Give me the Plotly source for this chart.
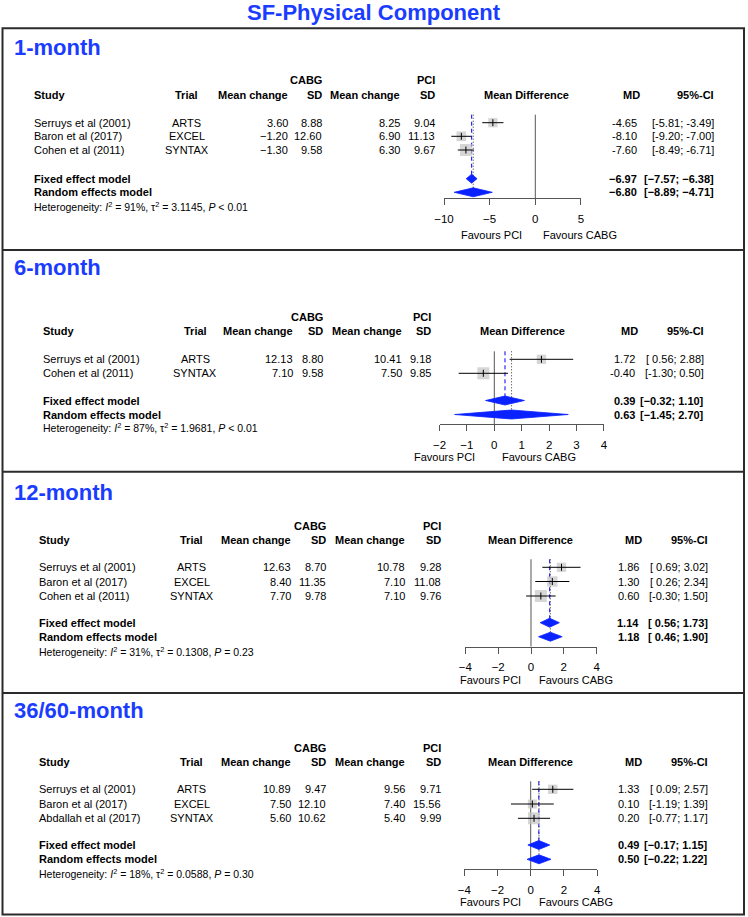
import math
import plotly.graph_objects as go

W, H = 748, 917
OFF = 0
FW, FH = W - OFF, H - OFF

# ------------------------------------------------------------------ data
main_title = "SF-Physical Component"
col_heads = ["Study", "Trial", "Mean change", "SD", "Mean change", "SD", "Mean Difference", "MD", "95%-CI"]
group_left = "CABG"
group_right = "PCI"
label_left = "Favours PCI"
label_right = "Favours CABG"

p1_name = "1-month"
p1_study = ["Serruys et al (2001)", "Baron et al (2017)", "Cohen et al (2011)"]
p1_trial = ["ARTS", "EXCEL", "SYNTAX"]
p1_cabg_mean = [3.60, -1.20, -1.30]
p1_cabg_sd = [8.88, 12.60, 9.58]
p1_pci_mean = [8.25, 6.90, 6.30]
p1_pci_sd = [9.04, 11.13, 9.67]
p1_md = [-4.65, -8.10, -7.60]
p1_lo = [-5.81, -9.20, -8.49]
p1_hi = [-3.49, -7.00, -6.71]
p1_fixed = [-6.97, -7.57, -6.38]
p1_random = [-6.80, -8.89, -4.71]
p1_het = ["91%", "3.1145", "< 0.01"]
p1_ticks = [-10, -5, 0, 5]

p2_name = "6-month"
p2_study = ["Serruys et al (2001)", "Cohen et al (2011)"]
p2_trial = ["ARTS", "SYNTAX"]
p2_cabg_mean = [12.13, 7.10]
p2_cabg_sd = [8.80, 9.58]
p2_pci_mean = [10.41, 7.50]
p2_pci_sd = [9.18, 9.85]
p2_md = [1.72, -0.40]
p2_lo = [0.56, -1.30]
p2_hi = [2.88, 0.50]
p2_fixed = [0.39, -0.32, 1.10]
p2_random = [0.63, -1.45, 2.70]
p2_het = ["87%", "1.9681", "< 0.01"]
p2_ticks = [-2, -1, 0, 1, 2, 3, 4]

p3_name = "12-month"
p3_study = ["Serruys et al (2001)", "Baron et al (2017)", "Cohen et al (2011)"]
p3_trial = ["ARTS", "EXCEL", "SYNTAX"]
p3_cabg_mean = [12.63, 8.40, 7.70]
p3_cabg_sd = [8.70, 11.35, 9.78]
p3_pci_mean = [10.78, 7.10, 7.10]
p3_pci_sd = [9.28, 11.08, 9.76]
p3_md = [1.86, 1.30, 0.60]
p3_lo = [0.69, 0.26, -0.30]
p3_hi = [3.02, 2.34, 1.50]
p3_fixed = [1.14, 0.56, 1.73]
p3_random = [1.18, 0.46, 1.90]
p3_het = ["31%", "0.1308", "= 0.23"]
p3_ticks = [-4, -2, 0, 2, 4]

p4_name = "36/60-month"
p4_study = ["Serruys et al (2001)", "Baron et al (2017)", "Abdallah et al (2017)"]
p4_trial = ["ARTS", "EXCEL", "SYNTAX"]
p4_cabg_mean = [10.89, 7.50, 5.60]
p4_cabg_sd = [9.47, 12.10, 10.62]
p4_pci_mean = [9.56, 7.40, 5.40]
p4_pci_sd = [9.71, 15.56, 9.99]
p4_md = [1.33, 0.10, 0.20]
p4_lo = [0.09, -1.19, -0.77]
p4_hi = [2.57, 1.39, 1.17]
p4_fixed = [0.49, -0.17, 1.15]
p4_random = [0.50, -0.22, 1.22]
p4_het = ["18%", "0.0588", "= 0.30"]
p4_ticks = [-4, -2, 0, 2, 4]

# ------------------------------------------------------------------ layout (page pixel positions, styles)
FONT = "Liberation Sans, Arial, Helvetica, sans-serif"
BLUE_T = "#1a3cff"
DIAM = "#0a22ff"
BOX = "#c4c4c4"
FS = 11
FS_HET = 10.5

layouts = [
    dict(title_y=47, cabg_y=80, head_y=94.5, rows=[122.7, 136.3, 150], fixed_y=178.7, random_y=192.3,
         het_y=206, axis_y=198.3, fav_y=235, x_study=32.4, x_trial=186.5, x_cm=289.5, x_cs=324,
         x_pm=402, x_ps=437.5, x_mdh=526.5, x_md=639, x_ci=715.5, x0=535.3, ppu=9.13,
         fav_l=524, fav_r=541),
    dict(title_y=267, cabg_y=317, head_y=331, rows=[359.3, 373.3], fixed_y=400.5, random_y=414.5,
         het_y=427.5, axis_y=424.3, fav_y=456.7, x_study=41, x_trial=195, x_cm=295, x_cs=325,
         x_pm=404, x_ps=433, x_mdh=522, x_md=637, x_ci=706, x0=494.3, ppu=27.4,
         fav_l=477, fav_r=500),
    dict(title_y=492.3, cabg_y=526, head_y=539.5, rows=[567.3, 581.5, 596], fixed_y=622.7, random_y=636.7,
         het_y=651.7, axis_y=646.5, fav_y=680, x_study=36.7, x_trial=191.5, x_cm=293, x_cs=328,
         x_pm=407, x_ps=443, x_mdh=530.5, x_md=641, x_ci=710, x0=531, ppu=16.4,
         fav_l=523, fav_r=537),
    dict(title_y=710.7, cabg_y=747.7, head_y=761.7, rows=[789.3, 804, 818.3], fixed_y=845, random_y=859.3,
         het_y=873, axis_y=869.3, fav_y=901.7, x_study=36.7, x_trial=191.5, x_cm=293, x_cs=328,
         x_pm=407, x_ps=443, x_mdh=530.5, x_md=641, x_ci=710, x0=530.7, ppu=16.6,
         fav_l=523, fav_r=537),
]

panels = [
    dict(name=p1_name, study=p1_study, trial=p1_trial, cm=p1_cabg_mean, cs=p1_cabg_sd, pm=p1_pci_mean,
         ps=p1_pci_sd, md=p1_md, lo=p1_lo, hi=p1_hi, fixed=p1_fixed, random=p1_random, het=p1_het, ticks=p1_ticks),
    dict(name=p2_name, study=p2_study, trial=p2_trial, cm=p2_cabg_mean, cs=p2_cabg_sd, pm=p2_pci_mean,
         ps=p2_pci_sd, md=p2_md, lo=p2_lo, hi=p2_hi, fixed=p2_fixed, random=p2_random, het=p2_het, ticks=p2_ticks),
    dict(name=p3_name, study=p3_study, trial=p3_trial, cm=p3_cabg_mean, cs=p3_cabg_sd, pm=p3_pci_mean,
         ps=p3_pci_sd, md=p3_md, lo=p3_lo, hi=p3_hi, fixed=p3_fixed, random=p3_random, het=p3_het, ticks=p3_ticks),
    dict(name=p4_name, study=p4_study, trial=p4_trial, cm=p4_cabg_mean, cs=p4_cabg_sd, pm=p4_pci_mean,
         ps=p4_pci_sd, md=p4_md, lo=p4_lo, hi=p4_hi, fixed=p4_fixed, random=p4_random, het=p4_het, ticks=p4_ticks),
]


def px(x):
    """page x pixel -> paper fraction of the figure"""
    return (x - OFF) / FW


def fmt(v, minus="−"):
    return f"{v:.2f}".replace("-", minus)


def ci_text(lo, hi, minus="-"):
    a = fmt(lo, minus)
    if lo >= 0:
        a = "\u00a0" + a
    return f"[{a}; {fmt(hi, minus)}]"


fig = go.Figure()
ann = []


def txt(x, y, s, anchor="left", size=FS, color="black", bold=False):
    if bold:
        s = f"<b>{s}</b>"
    ann.append(dict(x=px(x), y=y, xref="paper", yref="y", text=s, showarrow=False,
                    xanchor=anchor, yanchor="middle", align=anchor,
                    font=dict(family=FONT, size=size, color=color)))


txt(W / 2, 12.5, main_title, "center", 22, BLUE_T, True)

layout_axes = {}
for k, (P, L) in enumerate(zip(panels, layouts), start=1):
    xa = "x" if k == 1 else f"x{k}"
    axkey = "xaxis" if k == 1 else f"xaxis{k}"
    lo_t, hi_t = min(P["ticks"]), max(P["ticks"])
    layout_axes[axkey] = dict(
        domain=[px(L["x0"] + lo_t * L["ppu"]), px(L["x0"] + hi_t * L["ppu"])],
        range=[lo_t, hi_t], anchor="free", position=1 - (L["axis_y"] - OFF) / FH,
        showline=True, linecolor="#555", linewidth=1, ticks="outside", ticklen=6,
        tickcolor="#555", tickwidth=1, tickvals=P["ticks"], ticklabelstandoff=4,
        ticktext=[str(t).replace("-", "−") for t in P["ticks"]],
        tickfont=dict(family=FONT, size=11.5, color="black"),
        showgrid=False, zeroline=False, fixedrange=True, automargin=False)

    # texts
    txt(12, L["title_y"], P["name"], "left", 22, BLUE_T, True)
    txt(L["x_cs"], L["cabg_y"], group_left, "right", FS, bold=True)
    txt(L["x_ps"], L["cabg_y"], group_right, "right", FS, bold=True)
    hy = L["head_y"]
    txt(L["x_study"], hy, col_heads[0], "left", bold=True)
    txt(L["x_trial"], hy, col_heads[1], "center", bold=True)
    txt(L["x_cm"], hy, col_heads[2], "right", bold=True)
    txt(L["x_cs"], hy, col_heads[3], "right", bold=True)
    txt(L["x_pm"], hy, col_heads[4], "right", bold=True)
    txt(L["x_ps"], hy, col_heads[5], "right", bold=True)
    txt(L["x_mdh"], hy, col_heads[6], "center", bold=True)
    txt(L["x_md"] + 3, hy, col_heads[7], "right", bold=True)
    txt(L["x_ci"], hy, col_heads[8], "right", bold=True)

    for i, y in enumerate(L["rows"]):
        txt(L["x_study"], y, P["study"][i], "left")
        txt(L["x_trial"], y, P["trial"][i], "center")
        txt(L["x_cm"], y, fmt(P["cm"][i]), "right")
        txt(L["x_cs"], y, fmt(P["cs"][i]), "right")
        txt(L["x_pm"], y, fmt(P["pm"][i]), "right")
        txt(L["x_ps"], y, fmt(P["ps"][i]), "right")
        txt(L["x_md"], y, fmt(P["md"][i], "-"), "right")
        txt(L["x_ci"], y, ci_text(P["lo"][i], P["hi"][i]), "right")

    txt(L["x_study"], L["fixed_y"], "Fixed effect model", "left", bold=True)
    txt(L["x_study"], L["random_y"], "Random effects model", "left", bold=True)
    for key in ("fixed", "random"):
        e, a, b = P[key]
        txt(L["x_md"], L[key + "_y"], fmt(e, "−"), "right", bold=True)
        txt(L["x_ci"], L[key + "_y"], ci_text(a, b, "−"), "right", bold=True)
    i2, t2, pv = P["het"]
    txt(L["x_study"], L["het_y"],
        f"Heterogeneity: <i>I</i><sup>2</sup> = {i2}, τ<sup>2</sup> = {t2}, <i>P</i> {pv}", "left", FS_HET)
    txt(L["fav_l"], L["fav_y"], label_left, "right")
    txt(L["fav_r"], L["fav_y"], label_right, "left")

    top = L["rows"][0] - 8
    # reference line at 0
    fig.add_trace(go.Scatter(x=[0, 0], y=[top, L["axis_y"]], xaxis=xa, yaxis="y", mode="lines",
                             line=dict(color="#555", width=1), hoverinfo="skip", cliponaxis=False))
    # fixed / random lines
    fig.add_trace(go.Scatter(x=[P["fixed"][0]] * 2, y=[top, L["fixed_y"]], xaxis=xa, yaxis="y", mode="lines",
                             line=dict(color="blue", width=1, dash="4px,3px"), hoverinfo="skip", cliponaxis=False))
    fig.add_trace(go.Scatter(x=[P["random"][0]] * 2, y=[top, L["random_y"]], xaxis=xa, yaxis="y", mode="lines",
                             line=dict(color="#333", width=1, dash="1px,2px"), hoverinfo="skip", cliponaxis=False))
    # boxes (size from inverse-variance weight)
    ses = [(h - l) / 3.92 for l, h in zip(P["lo"], P["hi"])]
    wts = [1 / s ** 2 for s in ses]
    sizes = [12 * math.sqrt(w / max(wts)) for w in wts]
    fig.add_trace(go.Scatter(x=P["md"], y=L["rows"], xaxis=xa, yaxis="y", mode="markers",
                             marker=dict(symbol="square", size=sizes, color=BOX, line=dict(width=0)),
                             hoverinfo="skip", cliponaxis=False))
    cx, cy = [], []
    for l, h, y in zip(P["lo"], P["hi"], L["rows"]):
        cx += [l, h, None]
        cy += [y, y, None]
    fig.add_trace(go.Scatter(x=cx, y=cy, xaxis=xa, yaxis="y", mode="lines",
                             line=dict(color="black", width=1), hoverinfo="skip", cliponaxis=False))
    fig.add_trace(go.Scatter(x=P["md"], y=L["rows"], xaxis=xa, yaxis="y", mode="markers",
                             marker=dict(symbol="line-ns", size=5, line=dict(color="black", width=1)),
                             hoverinfo="skip", cliponaxis=False))
    # diamonds
    for key in ("fixed", "random"):
        e, a, b = P[key]
        y = L[key + "_y"]
        hh = 4.5
        fig.add_trace(go.Scatter(x=[a, e, b, e, a], y=[y, y - hh, y, y + hh, y], xaxis=xa, yaxis="y",
                                 mode="lines", fill="toself", fillcolor=DIAM,
                                 line=dict(color=DIAM, width=0.8), hoverinfo="skip"))

# panel frames
FL, FR = 2.5, 744
shapes = [dict(type="rect", xref="paper", yref="y", x0=px(FL), x1=px(FR), y0=28.3, y1=914.5,
               line=dict(color="#2b2b2b", width=2))]
for yb in (250, 471.7, 693):
    shapes.append(dict(type="line", xref="paper", yref="y", x0=px(FL), x1=px(FR), y0=yb, y1=yb,
                       line=dict(color="#2b2b2b", width=2)))

fig.update_layout(
    width=FW, height=FH, margin=dict(l=0, r=0, t=0, b=0, pad=0, autoexpand=False),
    paper_bgcolor="white", plot_bgcolor="rgba(0,0,0,0)", showlegend=False,
    yaxis=dict(range=[H, OFF], domain=[0, 1], visible=False, fixedrange=True),
    annotations=ann, shapes=shapes, **layout_axes)

# remove the browser's default page margin so the figure sits at the window origin
fig.write_html("out.html", config={"displayModeBar": False, "staticPlot": True},
               post_script="document.body.style.margin='0px';document.body.style.overflow='hidden';")
